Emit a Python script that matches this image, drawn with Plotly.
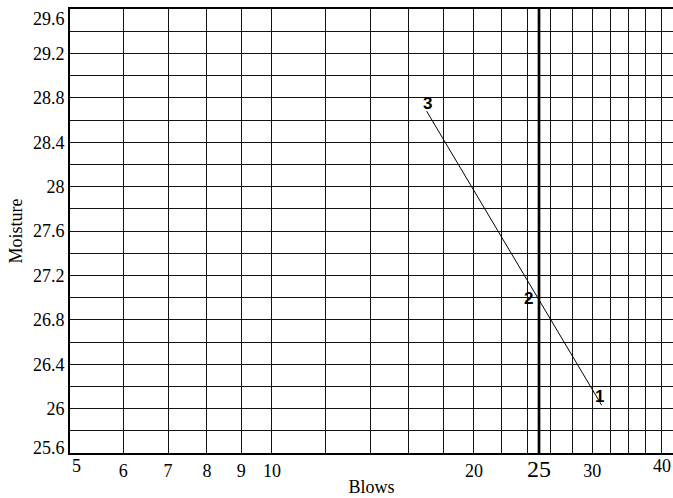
import math
import plotly.graph_objects as go

# Liquid-limit flow curve: number of blows vs. moisture content
blows = [31, 25, 17]
moisture = [26.03, 26.98, 28.68]
point_labels = ["1", "2", "3"]

# Reference blow count (heavy vertical line)
ref_blows = 25

# Axis ticks
x_major = [5, 6, 7, 8, 9, 10, 20, 25, 30, 40]
x_major_text = ["", "6", "7", "8", "9", "10", "20",
                "<span style='font-size:24px'>25</span>", "30", ""]
x_minor = [12, 14, 16, 18, 22, 24, 26, 28, 32, 34, 36, 38]
y_range = [25.6, 29.6]
y_major = [25.6, 26.0, 26.4, 26.8, 27.2, 27.6, 28.0, 28.4, 28.8, 29.2, 29.6]
y_major_text = ["", "26", "26.4", "26.8", "27.2", "27.6", "28", "28.4", "28.8", "29.2", ""]

SERIF = "Liberation Serif"
GRID = "#111111"
TICKFONT = dict(family=SERIF, size=18, color="black")

W, H = 673, 498
ML, MR, MT, MB = 70, 0, 9, 45
px_per_decade = 671.0
x_lo = math.log10(5)
x_hi = x_lo + (W - ML - MR) / px_per_decade

fig = go.Figure()

# Heavy line at the reference blow count
fig.add_trace(go.Scatter(
    x=[ref_blows, ref_blows], y=y_range, mode="lines",
    line=dict(color="black", width=2.7),
    hoverinfo="skip", showlegend=False, cliponaxis=True,
))

fig.add_trace(go.Scatter(
    x=blows, y=moisture, mode="lines",
    line=dict(color="black", width=1),
    hoverinfo="skip", showlegend=False,
))

# Point numbers beside each test point
offsets = {"1": (-2, 9), "2": (-11, 1), "3": (1, 8)}
for b, m, lab in zip(blows, moisture, point_labels):
    dx, dy = offsets[lab]
    fig.add_annotation(
        x=math.log10(b), y=m, xref="x", yref="y", text=f"<b>{lab}</b>",
        showarrow=False, xshift=dx, yshift=dy,
        font=dict(family="Liberation Sans", size=17, color="black"),
    )

# Edge tick labels kept inside the frame
fig.add_annotation(x=math.log10(5), y=0, xref="x", yref="paper", text="5",
                   showarrow=False, xanchor="left", yanchor="top", yshift=-1,
                   font=TICKFONT)
fig.add_annotation(x=1, y=0, xref="paper", yref="paper", text="40",
                   showarrow=False, xanchor="right", yanchor="top", yshift=-1,
                   font=TICKFONT)
fig.add_annotation(x=0, y=29.6, xref="paper", yref="y", text="29.6",
                   showarrow=False, xanchor="right", yanchor="middle",
                   xshift=-3, yshift=-10, font=TICKFONT)
fig.add_annotation(x=0, y=25.6, xref="paper", yref="y", text="25.6",
                   showarrow=False, xanchor="right", yanchor="middle",
                   xshift=-3, yshift=5, font=TICKFONT)

fig.update_layout(
    width=W, height=H,
    margin=dict(l=ML, r=MR, t=MT, b=MB),
    paper_bgcolor="white", plot_bgcolor="white",
    font=dict(family=SERIF, size=18, color="black"),
    xaxis=dict(
        type="log", range=[x_lo, x_hi],
        tickmode="array", tickvals=x_major, ticktext=x_major_text,
        tickfont=TICKFONT,
        showgrid=True, gridcolor=GRID, gridwidth=1,
        minor=dict(tickmode="array", tickvals=x_minor, showgrid=True,
                   gridcolor=GRID, gridwidth=1, ticks=""),
        showline=True, linecolor="black", linewidth=2, mirror=True,
        ticks="", zeroline=False,
        title=dict(text="Blows", font=dict(family=SERIF, size=18), standoff=0),
    ),
    yaxis=dict(
        range=y_range,
        tickmode="array", tickvals=y_major, ticktext=y_major_text,
        tickfont=TICKFONT,
        showgrid=True, gridcolor=GRID, gridwidth=1,
        minor=dict(dtick=0.2, showgrid=True, gridcolor=GRID, gridwidth=1, ticks=""),
        showline=True, linecolor="black", linewidth=2,
        ticks="", zeroline=False,
        title=dict(text="Moisture", font=dict(family=SERIF, size=18), standoff=6),
    ),
)

fig.write_html("out.html")
